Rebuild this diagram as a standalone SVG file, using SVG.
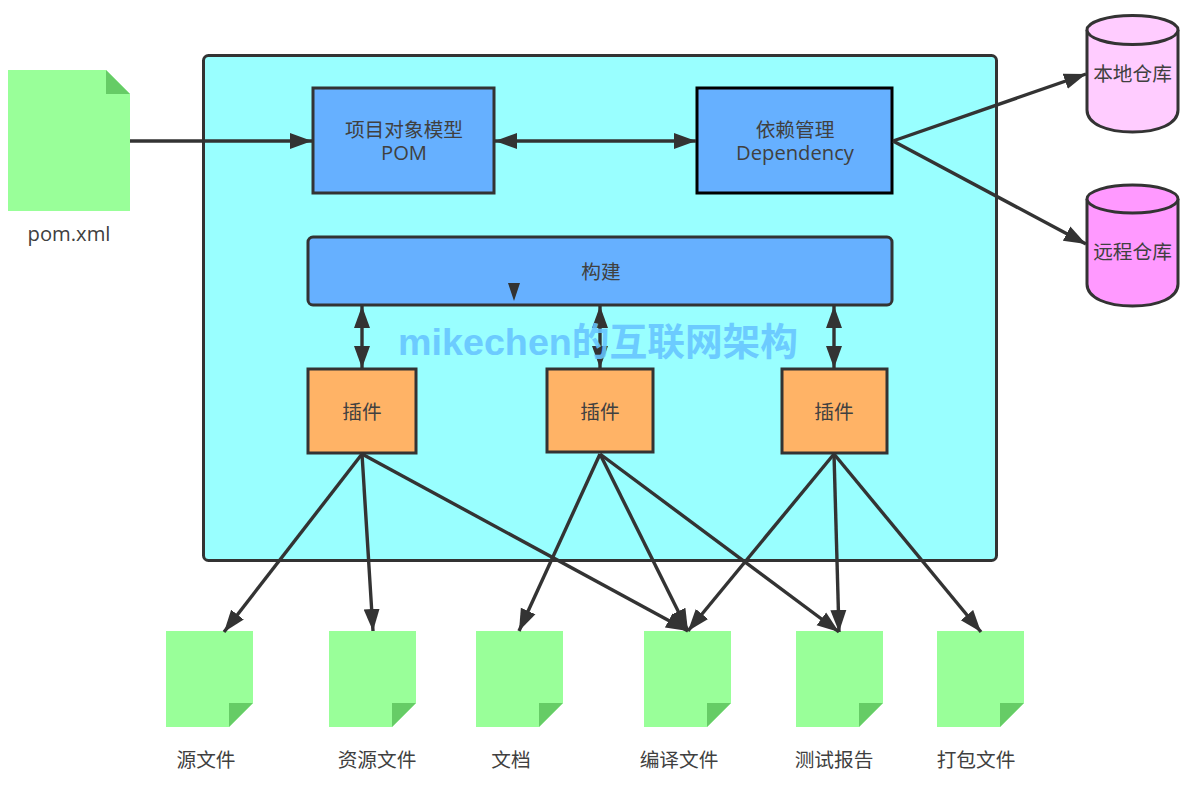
<svg xmlns="http://www.w3.org/2000/svg" width="1194" height="789" viewBox="0 0 1194 789">
<style>
text{font-family:"Open Sans","Noto Sans CJK SC",sans-serif;font-size:19.7px;fill:#404040;text-anchor:middle}
.latin{font-size:20.2px}
.box{stroke:#333;stroke-width:3}
.blue{fill:#66b0ff}
.orange{fill:#ffb366}
.doc{fill:#99ff99}
.fold{fill:#66cc66}
.conn line{stroke:#333;stroke-width:3.4;marker-end:url(#a)}
.conn line.both{marker-start:url(#a)}
.db{stroke:#333;stroke-width:3}
</style>
<defs>
<marker id="a" markerUnits="userSpaceOnUse" markerWidth="24" markerHeight="18" viewBox="0 0 24 18" refX="22" refY="9" orient="auto-start-reverse"><path d="M0 1L22 9L0 17Z" fill="#333"/></marker>
</defs>
<rect width="1194" height="789" fill="#fff"/>
<g id="container"><rect class="box" x="203.500" y="55.500" width="793" height="505" rx="5" fill="#99ffff"/></g>
<g id="pom-xml"><path class="doc" d="M8 70H106L130 94V211H8Z"/><path class="fold" d="M106 70L130 94H106Z"/><text class="latin" x="69" y="241">pom.xml</text></g>
<g id="pom"><rect class="box blue" x="313" y="88" width="181" height="105"/><text x="404" y="137">项目对象模型<tspan class="latin" x="404" dy="23">POM</tspan></text></g>
<g id="dependency"><rect class="blue" x="697" y="88" width="195" height="105" stroke="#000" stroke-width="3"/><text x="795" y="137">依赖管理<tspan class="latin" x="795" dy="23">Dependency</tspan></text></g>
<g id="build"><rect class="box blue" x="308" y="237" width="584" height="68" rx="5"/><text x="601" y="279">构建</text><path d="M508 283H520L514 301Z" fill="#333"/></g>
<g id="plugin-1"><rect class="box orange" x="308" y="369" width="108" height="84"/><text x="362" y="419">插件</text></g>
<g id="plugin-2"><rect class="box orange" x="547" y="369" width="106" height="83"/><text x="600" y="419">插件</text></g>
<g id="plugin-3"><rect class="box orange" x="782" y="369" width="105" height="84"/><text x="834" y="419">插件</text></g>
<g id="local-repo"><path class="db" fill="#ffccff" d="M1087 30V110C1087 124 1107 132 1132.500 132S1178 124 1178 110V30"/><ellipse class="db" fill="#ffccff" cx="1132.500" cy="30" rx="45.500" ry="14.500"/><text x="1132.500" y="81">本地仓库</text></g>
<g id="remote-repo"><path class="db" fill="#ff99ff" d="M1087 199V284C1087 298 1107 306 1132.500 306S1178 298 1178 284V199"/><ellipse class="db" fill="#ff99ff" cx="1132.500" cy="199" rx="45.500" ry="14"/><text x="1132.500" y="259">远程仓库</text></g>
<g id="doc-source"><path class="doc" d="M166 631H253V703L229 727H166Z"/><path class="fold" d="M229 703H253L229 727Z"/><text x="206" y="767">源文件</text></g>
<g id="doc-resource"><path class="doc" d="M329 631H416V703L392 727H329Z"/><path class="fold" d="M392 703H416L392 727Z"/><text x="377" y="767">资源文件</text></g>
<g id="doc-doc"><path class="doc" d="M476 631H563V703L539 727H476Z"/><path class="fold" d="M539 703H563L539 727Z"/><text x="511" y="767">文档</text></g>
<g id="doc-compile"><path class="doc" d="M644 631H731V703L707 727H644Z"/><path class="fold" d="M707 703H731L707 727Z"/><text x="679" y="767">编译文件</text></g>
<g id="doc-test"><path class="doc" d="M796 631H883V703L859 727H796Z"/><path class="fold" d="M859 703H883L859 727Z"/><text x="834" y="767">测试报告</text></g>
<g id="doc-package"><path class="doc" d="M937 631H1024V703L1000 727H937Z"/><path class="fold" d="M1000 703H1024L1000 727Z"/><text x="976" y="767">打包文件</text></g>
<g id="connectors" class="conn">
<line x1="130" y1="141" x2="312" y2="141"/>
<line class="both" x1="495" y1="141" x2="696" y2="141"/>
<line x1="893" y1="141" x2="1086" y2="74"/>
<line x1="893" y1="141" x2="1086" y2="244"/>
<line class="both" x1="362" y1="306" x2="362" y2="368"/>
<line class="both" x1="600" y1="306" x2="600" y2="368"/>
<line class="both" x1="834" y1="306" x2="834" y2="368"/>
<line x1="362" y1="454" x2="224" y2="632"/>
<line x1="362" y1="454" x2="373" y2="631"/>
<line x1="362" y1="454" x2="688" y2="631"/>
<line x1="600" y1="454" x2="519" y2="631"/>
<line x1="600" y1="454" x2="688" y2="631"/>
<line x1="600" y1="454" x2="839" y2="632"/>
<line x1="834" y1="454" x2="688" y2="631"/>
<line x1="834" y1="454" x2="839" y2="632"/>
<line x1="834" y1="454" x2="981" y2="632"/>
</g>
<text x="598" y="355" style="font-family:'Liberation Sans','Noto Sans CJK SC',sans-serif;font-size:37.700px;font-weight:700;fill:#66c4ff;opacity:.88">mikechen的互联网架构</text>
</svg>
